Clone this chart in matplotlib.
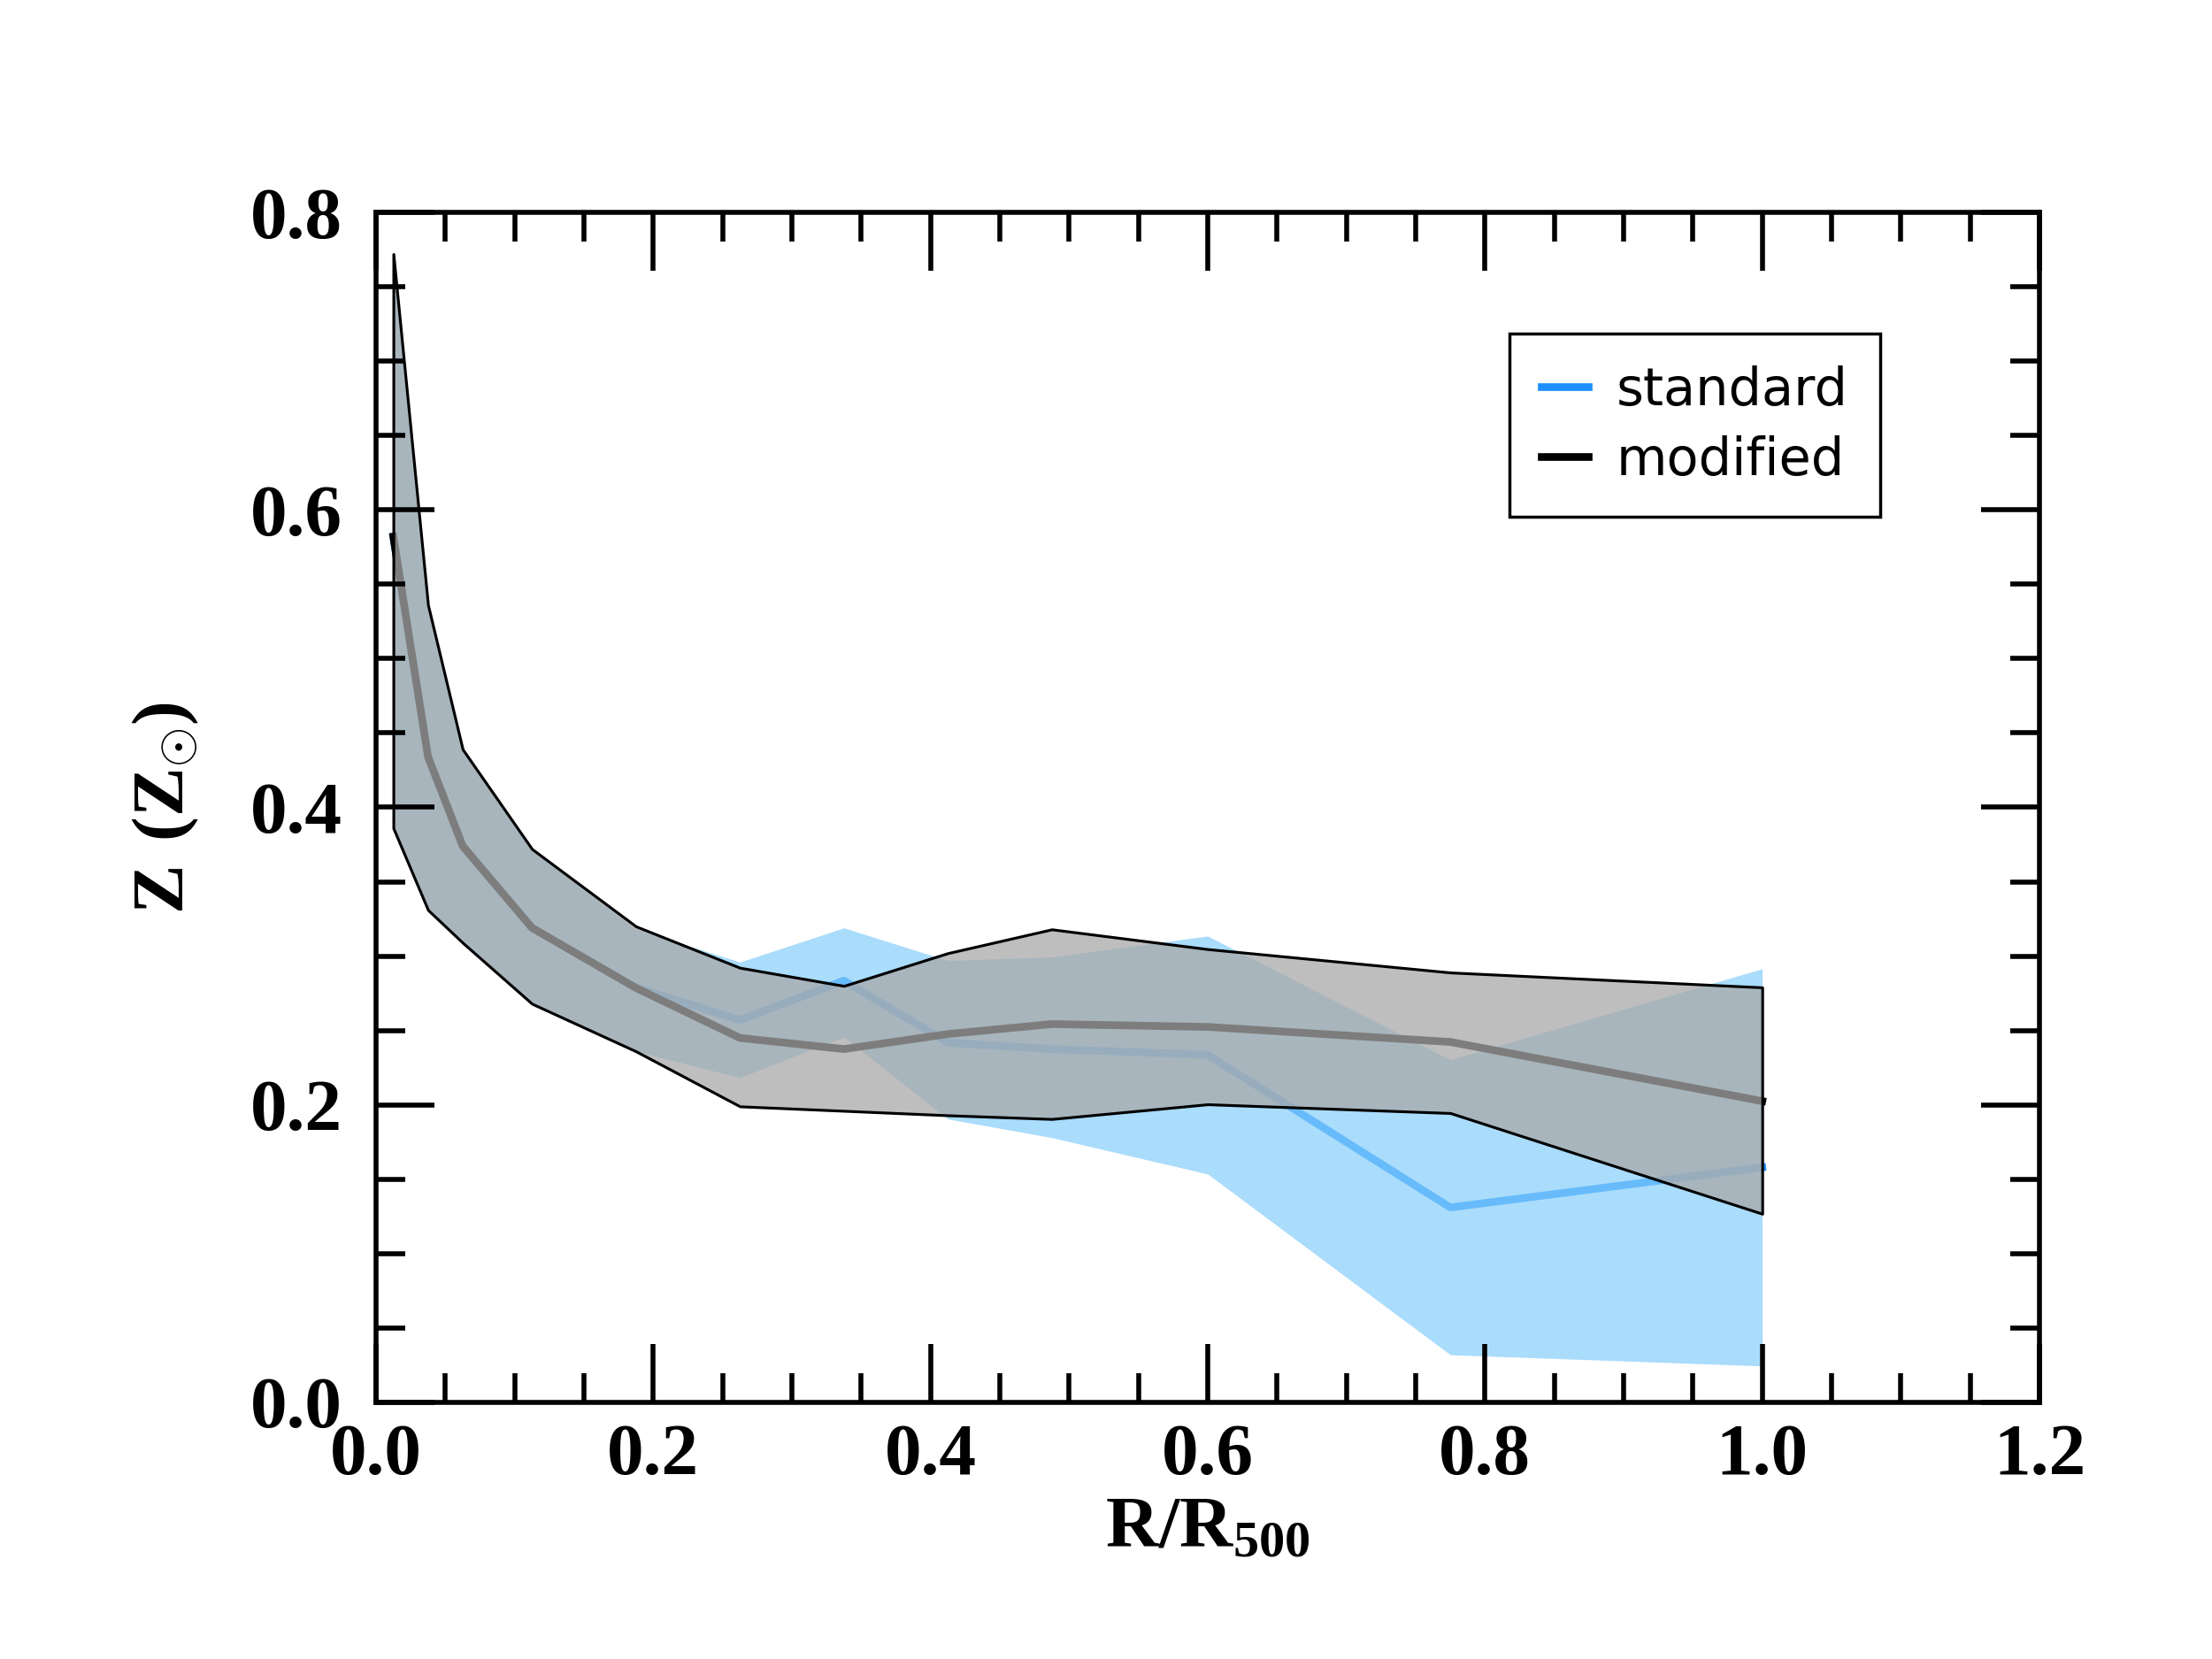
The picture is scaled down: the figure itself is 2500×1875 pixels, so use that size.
import matplotlib
matplotlib.use("Agg")
import matplotlib.pyplot as plt
from matplotlib.ticker import MultipleLocator

# radial bins (R/R500)
r = [0.0125, 0.0375, 0.0625, 0.1125, 0.1875, 0.2625, 0.3375, 0.4125, 0.4875, 0.6, 0.775, 1.0]

# standard run
std_mean = [0.582, 0.434, 0.374, 0.319, 0.279, 0.257, 0.2835, 0.2418, 0.2375, 0.2336, 0.131, 0.158]
std_hi = [0.772, 0.536, 0.439, 0.372, 0.318, 0.296, 0.319, 0.297, 0.2994, 0.3135, 0.2303, 0.2915]
std_lo = [0.386, 0.331, 0.309, 0.268, 0.236, 0.2184, 0.2457, 0.1905, 0.178, 0.1535, 0.032, 0.0245]

# modified run
mod_mean = [0.582, 0.434, 0.374, 0.319, 0.2786, 0.245, 0.2375, 0.2476, 0.2543, 0.2524, 0.2423, 0.2025]
mod_hi = [0.772, 0.536, 0.439, 0.372, 0.320, 0.2922, 0.280, 0.302, 0.318, 0.3047, 0.289, 0.279]
mod_lo = [0.386, 0.331, 0.309, 0.268, 0.236, 0.199, 0.196, 0.193, 0.1905, 0.2004, 0.1945, 0.1268]

plt.rcParams['mathtext.fontset'] = 'custom'
plt.rcParams['mathtext.rm'] = 'Liberation Serif'
plt.rcParams['mathtext.bf'] = 'Liberation Serif:bold'

fig = plt.figure(figsize=(10, 7.5), dpi=250)
ax = fig.add_axes([0.170, 0.1547, 0.752, 0.7173])
ax.set_axisbelow(False)  # ticks drawn over the bands

# mean lines sit under the shaded bands
ax.plot(r, std_mean, color='dodgerblue', lw=2.5, label='standard', zorder=1.0)
ax.fill_between(r, std_lo, std_hi, color='lightskyblue', alpha=0.7, lw=0, zorder=1.1)
ax.plot(r, mod_mean, color='black', lw=2.5, label='modified', zorder=1.2)
ax.fill_between(r, mod_lo, mod_hi, facecolor=(0.66, 0.66, 0.66, 0.75),
                edgecolor='black', lw=0.9, zorder=1.3)

ax.set_xlim(0, 1.2)
ax.set_ylim(0, 0.8)
ax.xaxis.set_major_locator(MultipleLocator(0.2))
ax.xaxis.set_minor_locator(MultipleLocator(0.05))
ax.yaxis.set_major_locator(MultipleLocator(0.2))
ax.yaxis.set_minor_locator(MultipleLocator(0.05))
ax.tick_params(which='both', direction='in', top=True, right=True, width=1.6)
ax.tick_params(which='major', length=19)
ax.tick_params(which='minor', length=9.5)
ax.tick_params(axis='y', which='major', pad=11)
ax.tick_params(axis='x', which='major', pad=7)
for s in ax.spines.values():
    s.set_linewidth(1.6)
for lab in ax.get_xticklabels() + ax.get_yticklabels():
    lab.set_fontfamily('Liberation Serif')
    lab.set_fontweight('bold')
    lab.set_fontsize(24)

ax.set_xlabel(r'$\mathbf{R/R_{500}}$', fontsize=24, labelpad=0)
ax.set_ylabel(r'$\mathbf{Z\ (Z_{\odot})}$', fontsize=24, labelpad=16)

leg = ax.legend(loc='upper right', bbox_to_anchor=(0.904, 0.898), borderaxespad=0,
                fontsize=17, fancybox=False, framealpha=1, edgecolor='black',
                handlelength=0.9, handletextpad=0.55, borderpad=0.6, labelspacing=0.38)
leg.get_frame().set_linewidth(1.0)

fig.savefig('out.png', dpi=250)
